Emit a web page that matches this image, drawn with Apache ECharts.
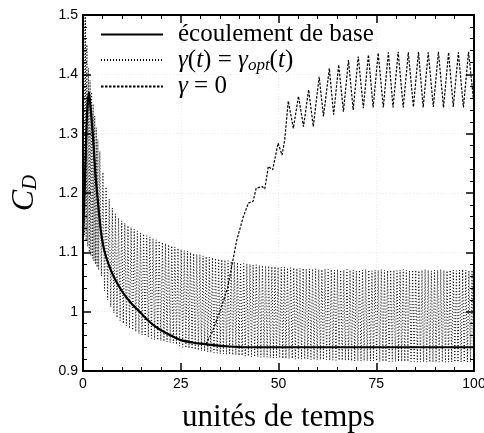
<!DOCTYPE html>
<html><head><meta charset="utf-8">
<script src="https://cdn.jsdelivr.net/npm/echarts@6/dist/echarts.min.js"></script>
<style>html,body{margin:0;padding:0;background:#fff}#c{width:484px;height:433px}</style>
</head><body><div id="c"></div>
<script>
const xTicks = [0, 25, 50, 75, 100];
const yTicks = [0.9, 1, 1.1, 1.2, 1.3, 1.4, 1.5];
const seriesNames = ['écoulement de base', 'gamma_opt', 'gamma0'];

// base flow
const baseT = [0, 0.5, 1, 1.5, 2, 2.6, 3.2, 3.9, 4.5, 5.2, 6, 7, 8, 9, 10, 11, 12.5, 14.6, 16.5, 18.7, 21, 23, 25, 28, 30, 33, 36, 42, 50, 60, 75, 100];
const baseV = [1.125, 1.22, 1.33, 1.37, 1.34, 1.29, 1.23, 1.18, 1.14, 1.11, 1.09, 1.072, 1.057, 1.045, 1.034, 1.025, 1.013, 0.999, 0.986, 0.974, 0.965, 0.958, 0.952, 0.948, 0.946, 0.944, 0.942, 0.94, 0.94, 0.94, 0.94, 0.94];

// gamma = gamma_opt(t): early transient, then peaks and troughs
const optEarlyT = [0, 0.2, 0.4, 0.6, 0.8, 1.0, 1.2, 1.4, 1.6, 1.8, 2.0, 2.2, 2.4, 2.6, 2.8, 3.0, 3.2, 3.4, 3.6, 3.8, 4.0];
const optEarlyV = [1.13, 1.55, 1.13, 1.50, 1.12, 1.45, 1.11, 1.41, 1.10, 1.39, 1.095, 1.37, 1.09, 1.35, 1.085, 1.33, 1.08, 1.31, 1.075, 1.29, 1.07];
const optHiT = [4.3, 5.1, 5.9, 6.7, 7.5, 8.3, 9.1, 9.9, 10.7, 11.5,
  12.3, 13.1, 13.9, 14.7, 15.5, 16.3, 17.1, 17.9, 18.7, 19.5,
  20.3, 21.1, 21.9, 22.7, 23.5, 24.3, 25.1, 25.9, 26.7, 27.5,
  28.3, 29.1, 29.9, 30.7, 31.5, 32.3, 33.1, 33.9, 34.7, 35.5,
  36.3, 37.1, 37.9, 38.7, 39.5, 40.3, 41.1, 41.9, 42.7, 43.5,
  44.3, 45.1, 45.9, 46.7, 47.5, 48.3, 49.1, 49.9, 50.7, 51.5,
  52.3, 53.1, 53.9, 54.7, 55.5, 56.3, 57.1, 57.9, 58.7, 59.5,
  60.3, 61.1, 61.9, 62.7, 63.5, 64.3, 65.1, 65.9, 66.7, 67.5,
  68.3, 69.1, 69.9, 70.7, 71.5, 72.3, 73.1, 73.9, 74.7, 75.5,
  76.3, 77.1, 77.9, 78.7, 79.5, 80.3, 81.1, 81.9, 82.7, 83.5,
  84.3, 85.1, 85.9, 86.7, 87.5, 88.3, 89.1, 89.9, 90.7, 91.5,
  92.3, 93.1, 93.9, 94.7, 95.5, 96.3, 97.1, 97.9, 98.7, 99.5];
const optHiV = [1.27, 1.235, 1.21, 1.19, 1.175, 1.165, 1.158, 1.153, 1.149, 1.145,
  1.142, 1.139, 1.136, 1.133, 1.131, 1.128, 1.126, 1.123, 1.121, 1.119,
  1.117, 1.115, 1.113, 1.111, 1.109, 1.107, 1.105, 1.103, 1.102, 1.100,
  1.098, 1.097, 1.096, 1.094, 1.093, 1.092, 1.091, 1.090, 1.089, 1.088,
  1.087, 1.086, 1.085, 1.084, 1.083, 1.082, 1.081, 1.081, 1.080, 1.079,
  1.079, 1.078, 1.078, 1.077, 1.077, 1.076, 1.076, 1.075, 1.075, 1.075,
  1.074, 1.074, 1.074, 1.073, 1.073, 1.073, 1.072, 1.072, 1.072, 1.072,
  1.071, 1.071, 1.072, 1.071, 1.071, 1.070, 1.071, 1.070, 1.070, 1.071,
  1.070, 1.070, 1.069, 1.070, 1.070, 1.071, 1.070, 1.069, 1.070, 1.070,
  1.071, 1.070, 1.069, 1.070, 1.070, 1.069, 1.070, 1.071, 1.070, 1.069,
  1.070, 1.070, 1.069, 1.070, 1.071, 1.070, 1.069, 1.070, 1.070, 1.071,
  1.070, 1.069, 1.070, 1.070, 1.069, 1.070, 1.071, 1.070, 1.069, 1.070];
const optLoT = [4.7, 5.5, 6.3, 7.1, 7.9, 8.7, 9.5, 10.3, 11.1, 11.9,
  12.7, 13.5, 14.3, 15.1, 15.9, 16.7, 17.5, 18.3, 19.1, 19.9,
  20.7, 21.5, 22.3, 23.1, 23.9, 24.7, 25.5, 26.3, 27.1, 27.9,
  28.7, 29.5, 30.3, 31.1, 31.9, 32.7, 33.5, 34.3, 35.1, 35.9,
  36.7, 37.5, 38.3, 39.1, 39.9, 40.7, 41.5, 42.3, 43.1, 43.9,
  44.7, 45.5, 46.3, 47.1, 47.9, 48.7, 49.5, 50.3, 51.1, 51.9,
  52.7, 53.5, 54.3, 55.1, 55.9, 56.7, 57.5, 58.3, 59.1, 59.9,
  60.7, 61.5, 62.3, 63.1, 63.9, 64.7, 65.5, 66.3, 67.1, 67.9,
  68.7, 69.5, 70.3, 71.1, 71.9, 72.7, 73.5, 74.3, 75.1, 75.9,
  76.7, 77.5, 78.3, 79.1, 79.9, 80.7, 81.5, 82.3, 83.1, 83.9,
  84.7, 85.5, 86.3, 87.1, 87.9, 88.7, 89.5, 90.3, 91.1, 91.9,
  92.7, 93.5, 94.3, 95.1, 95.9, 96.7, 97.5, 98.3, 99.1, 99.9];
const optLoV = [1.06, 1.035, 1.02, 1.008, 0.998, 0.99, 0.985, 0.98, 0.976, 0.972,
  0.969, 0.966, 0.963, 0.961, 0.959, 0.957, 0.955, 0.953, 0.952, 0.951,
  0.950, 0.949, 0.948, 0.947, 0.945, 0.942, 0.940, 0.939, 0.938, 0.937,
  0.936, 0.935, 0.934, 0.933, 0.932, 0.931, 0.931, 0.930, 0.929, 0.929,
  0.928, 0.928, 0.927, 0.927, 0.926, 0.926, 0.925, 0.925, 0.924, 0.924,
  0.924, 0.923, 0.923, 0.923, 0.922, 0.922, 0.922, 0.922, 0.921, 0.921,
  0.921, 0.921, 0.920, 0.920, 0.920, 0.920, 0.920, 0.919, 0.919, 0.919,
  0.919, 0.919, 0.919, 0.918, 0.918, 0.918, 0.918, 0.918, 0.918, 0.918,
  0.917, 0.917, 0.917, 0.917, 0.917, 0.917, 0.917, 0.917, 0.917, 0.916,
  0.916, 0.916, 0.916, 0.916, 0.916, 0.916, 0.916, 0.916, 0.916, 0.916,
  0.916, 0.915, 0.915, 0.915, 0.915, 0.915, 0.915, 0.915, 0.915, 0.915,
  0.915, 0.915, 0.915, 0.915, 0.915, 0.915, 0.915, 0.915, 0.915, 0.915];

// gamma = 0
const zeroT = [0, 0.5, 1, 1.5, 2, 2.6, 3.2, 3.9, 4.5, 5.2, 6, 7, 8, 9, 10, 11, 12.5, 14.6, 16.5, 18.7, 21, 23, 25, 28, 30, 31.5,
  33, 35, 37, 38, 39.3, 41, 42.3, 43.5, 44.3, 45.8, 46.5, 47.4, 48.5, 49.9, 50.9, 51.6, 52.5, 53.8, 55.1, 56.4, 57.7, 58.9,
  60.4, 61.5, 63, 64.1, 65.4, 66.6, 67.9, 69.1, 70.4, 71.7, 73, 74.2, 75.5, 76.8, 78.1, 79.3, 80.6, 81.9, 83.2, 84.5, 85.8,
  87, 88.3, 89.6, 90.9, 92.2, 93.5, 94.7, 96, 97.3, 98.6, 100];
const zeroV = [1.125, 1.22, 1.33, 1.37, 1.34, 1.29, 1.23, 1.18, 1.14, 1.11, 1.09, 1.072, 1.057, 1.045, 1.034, 1.025, 1.013, 0.999, 0.986, 0.974, 0.965, 0.958, 0.952, 0.948, 0.946, 0.946,
  0.965, 1.0, 1.04, 1.075, 1.12, 1.16, 1.183, 1.186, 1.208, 1.211, 1.207, 1.245, 1.239, 1.284, 1.264, 1.29, 1.355, 1.309, 1.363, 1.312, 1.374, 1.312,
  1.396, 1.329, 1.41, 1.332, 1.416, 1.337, 1.424, 1.34, 1.43, 1.343, 1.433, 1.344, 1.436, 1.344, 1.437, 1.344, 1.438, 1.344, 1.437, 1.345, 1.438,
  1.344, 1.437, 1.345, 1.438, 1.344, 1.437, 1.345, 1.437, 1.344, 1.438, 1.35];

const zip = (t, v) => t.map((x, i) => [x, v[i]]);
const optData = zip(optEarlyT, optEarlyV);
optHiT.forEach((t, i) => { optData.push([t, optHiV[i]]); optData.push([optLoT[i], optLoV[i]]); });

const serif = 'Liberation Serif';
const sans = 'Liberation Sans';

const chart = echarts.init(document.getElementById('c'), null, {renderer: 'canvas'});
const legendText = {
  'écoulement de base': '{n|écoulement de base}',
  'gamma_opt': '{i|γ}{n|(}{i|t}{n|) = }{i|γ}{sub|opt}{n|(}{i|t}{n|)}',
  'gamma0': '{i|γ}{n| = 0}'
};
const axisCommon = {
  axisLine: {onZero: false, lineStyle: {color: '#000', width: 2}},
  axisTick: {inside: true, length: 8, lineStyle: {color: '#000', width: 1.5}},
  minorTick: {show: true, splitNumber: 5, length: 4, lineStyle: {color: '#000', width: 1}},
};
chart.setOption({
  animation: false,
  backgroundColor: '#fff',
  grid: {left: 83, top: 15, right: 10, bottom: 62, containLabel: false, outerBoundsMode: 'none'},
  legend: {
    left: 95, top: 17, orient: 'vertical', itemGap: 0, itemWidth: 62, itemHeight: 20,
    data: seriesNames, selectedMode: false,
    itemStyle: {opacity: 0},
    formatter: n => legendText[n],
    textStyle: {
      padding: [0, 0, 0, 10],
      rich: {
        n: {fontFamily: serif, fontSize: 25, lineHeight: 28, color: '#000'},
        i: {fontFamily: serif, fontSize: 25, lineHeight: 28, fontStyle: 'italic', color: '#000'},
        sub: {fontFamily: serif, fontSize: 17, lineHeight: 28, fontStyle: 'italic', color: '#000', verticalAlign: 'bottom', padding: [10, 0, 0, 0]}
      }
    }
  },
  xAxis: [
    Object.assign({}, axisCommon, {
      type: 'value', min: 0, max: 100, interval: 25, position: 'bottom',
      name: 'unités de temps', nameLocation: 'middle', nameGap: 31,
      nameTextStyle: {fontFamily: serif, fontSize: 31, color: '#000'},
      axisLabel: {fontFamily: sans, fontSize: 14, color: '#000', margin: 6,
        formatter: v => xTicks.includes(v) ? String(v) : ''},
      splitLine: {show: true, lineStyle: {color: '#ececec', type: [1, 2], width: 1}}
    }),
    Object.assign({}, axisCommon, {
      type: 'value', min: 0, max: 100, interval: 25, position: 'top',
      axisLabel: {show: false}, splitLine: {show: false}
    })
  ],
  yAxis: [
    Object.assign({}, axisCommon, {
      type: 'value', min: 0.9, max: 1.5, interval: 0.1, position: 'left',
      name: '{i|C}{sub|D}', nameLocation: 'middle', nameGap: 42, nameRotate: 90,
      nameTextStyle: {rich: {
        i: {fontFamily: serif, fontSize: 32, fontStyle: 'italic', color: '#000'},
        sub: {fontFamily: serif, fontSize: 21, fontStyle: 'italic', color: '#000', verticalAlign: 'bottom', padding: [12, 0, 0, 0]}
      }},
      axisLabel: {fontFamily: sans, fontSize: 14, color: '#000', margin: 5,
        formatter: v => { const r = Math.round(v * 10) / 10; return yTicks.includes(r) ? String(r) : ''; }},
      splitLine: {show: true, lineStyle: {color: '#ececec', type: [1, 2], width: 1}}
    }),
    Object.assign({}, axisCommon, {
      type: 'value', min: 0.9, max: 1.5, interval: 0.1, position: 'right',
      axisLabel: {show: false}, splitLine: {show: false}
    })
  ],
  series: [
    {name: 'gamma_opt', type: 'line', data: optData, symbol: 'none', showSymbol: false,
      z: 2, clip: true, lineStyle: {color: '#000', width: 1, type: [1, 2]}, itemStyle: {color: '#000'}},
    {name: 'gamma0', type: 'line', data: zip(zeroT, zeroV), symbol: 'none', showSymbol: false,
      z: 3, clip: true, lineStyle: {color: '#000', width: 1.2, type: [2.5, 1.5]}, itemStyle: {color: '#000'}},
    {name: 'écoulement de base', type: 'line', data: zip(baseT, baseV), symbol: 'none', showSymbol: false, smooth: 0.3,
      z: 4, clip: true, lineStyle: {color: '#000', width: 2.2}, itemStyle: {color: '#000'}}
  ]
});
</script></body></html>
